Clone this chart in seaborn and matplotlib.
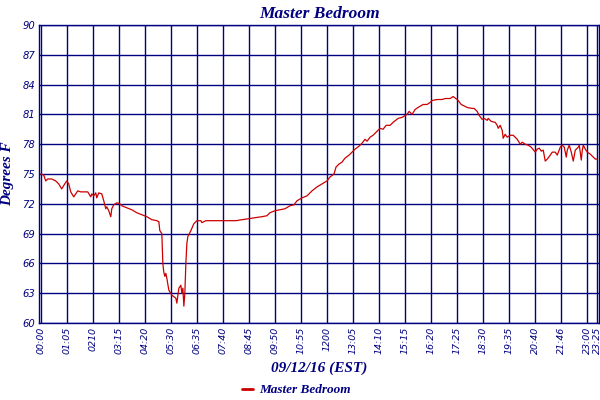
import pandas as pd
import seaborn as sns
import matplotlib
matplotlib.use("Agg")
import matplotlib.pyplot as plt

# readings (reading number, degrees F)
reading = [
  0, 3, 5, 7, 11, 15, 18, 21, 24, 26, 28, 30, 33, 35, 37, 40, 43, 47, 50, 51,
  53, 55, 56, 58, 61, 63, 65, 66, 68, 70, 71, 73, 76, 79, 81, 86, 91, 96, 101, 106,
  111, 116, 118, 119, 121, 122, 123, 124, 125, 126, 128, 131, 135, 136, 138, 140, 141, 142, 143, 144,
  145, 146, 147, 150, 153, 156, 160, 161, 165, 170, 175, 181, 188, 195, 201, 208, 214, 221, 226, 229,
  234, 239, 244, 249, 253, 256, 261, 266, 271, 276, 281, 286, 289, 293, 295, 298, 301, 304, 308, 311,
  314, 318, 321, 324, 326, 329, 332, 336, 339, 342, 345, 349, 352, 357, 361, 366, 368, 371, 374, 377,
  382, 386, 389, 391, 396, 401, 404, 409, 412, 416, 417, 420, 422, 426, 431, 433, 436, 438, 441, 443,
  446, 447, 450, 454, 456, 457, 459, 461, 462, 464, 466, 469, 472, 476, 479, 481, 484, 487, 490, 494,
  496, 498, 500, 502, 504, 506, 509, 511, 514, 516, 519, 521, 523, 525, 526, 528, 530, 532, 534, 535,
  537, 538, 540, 541, 542, 544, 546, 549, 551, 554, 556,
]
temp_f = [
  75.0, 74.9, 74.3, 74.5, 74.5, 74.3, 74.0, 73.5, 74.0, 74.3, 74.0, 73.2, 72.7, 73.0, 73.3, 73.2, 73.2, 73.2, 72.7, 73.0,
  72.8, 73.1, 72.6, 73.1, 73.0, 72.3, 71.5, 71.7, 71.3, 70.7, 71.5, 71.9, 72.1, 72.0, 71.8, 71.6, 71.4, 71.1, 70.9, 70.7,
  70.4, 70.3, 70.2, 69.3, 69.0, 66.0, 65.1, 64.7, 65.0, 64.5, 63.3, 62.8, 62.5, 62.0, 63.5, 63.8, 63.0, 63.5, 61.7, 63.0,
  66.0, 68.0, 68.7, 69.3, 70.0, 70.3, 70.3, 70.1, 70.3, 70.3, 70.3, 70.3, 70.3, 70.3, 70.4, 70.5, 70.6, 70.7, 70.8, 71.1,
  71.3, 71.4, 71.5, 71.8, 71.9, 72.3, 72.6, 72.8, 73.3, 73.7, 74.0, 74.3, 74.7, 75.0, 75.7, 76.0, 76.2, 76.6, 76.9, 77.2,
  77.5, 77.8, 78.1, 78.5, 78.3, 78.7, 78.9, 79.3, 79.6, 79.5, 79.9, 79.9, 80.2, 80.6, 80.7, 81.0, 81.3, 81.0, 81.5, 81.7,
  82.0, 82.0, 82.2, 82.4, 82.5, 82.5, 82.6, 82.6, 82.8, 82.5, 82.4, 82.0, 81.9, 81.7, 81.6, 81.6, 81.3, 80.9, 80.5, 80.6,
  80.4, 80.6, 80.3, 80.2, 79.9, 79.6, 79.9, 79.4, 78.6, 79.0, 78.7, 78.9, 78.9, 78.5, 78.0, 78.2, 78.0, 77.9, 77.7, 77.2,
  77.5, 77.6, 77.3, 77.4, 76.3, 76.5, 76.9, 77.2, 77.2, 76.9, 77.7, 77.9, 77.7, 76.7, 77.4, 77.9, 77.2, 76.3, 77.4, 77.5,
  77.7, 77.9, 76.4, 77.4, 77.9, 77.5, 77.2, 77.0, 76.8, 76.5, 76.5,
]

tick_readings = [0, 26, 52, 78, 104, 130, 156, 182, 208, 234, 260, 286, 312, 338, 364, 390, 416, 442, 468, 494, 520, 546, 556]
tick_labels = ["00:00", "01:05", "0210", "03:15", "04:20", "05:30", "06:35", "07:40", "08:45", "09:50", "10:55",
               "1200", "13:05", "14:10", "15:15", "16:20", "17:25", "18:30", "19:35", "20:40", "21:46", "23:00", "23:25"]
y_ticks = [60, 63, 66, 69, 72, 75, 78, 81, 84, 87, 90]

navy = "#000080"
red = "#CC0000"

sns.set_style("white")
plt.rcParams["font.family"] = ["DejaVu Sans"]

df = pd.DataFrame({"reading": reading, "temp": temp_f})

fig = plt.figure(figsize=(6, 4), dpi=100)
ax = fig.add_axes([39.3 / 600, 77 / 400, 559.7 / 600, 298 / 400])

sns.lineplot(data=df, x="reading", y="temp", ax=ax, color=red, linewidth=0.9, label="Master Bedroom")

ax.set_xlim(-1.4, 557.7)
ax.set_ylim(60, 90)
ax.set_xticks(tick_readings)
ax.set_xticklabels(tick_labels, rotation=90, fontsize=6.8, style="italic", color=navy)
ax.set_yticks(y_ticks)
ax.set_yticklabels([str(v) for v in y_ticks], fontsize=7.2, style="italic", color=navy)
ax.tick_params(axis="both", length=0, pad=3)
ax.grid(True, color=navy, linewidth=1.0)
ax.set_axisbelow(True)
for s in ax.spines.values():
  s.set_color(navy)
  s.set_linewidth(1.0)

serif = ["Liberation Serif", "DejaVu Serif"]
ax.set_title("Master Bedroom", fontsize=12.5, fontweight="bold", style="italic", color=navy, family=serif, pad=5)
ax.set_xlabel("09/12/16 (EST)", fontsize=11, fontweight="bold", style="italic", color=navy, family=serif, labelpad=5)
ax.set_ylabel("Degrees F", fontsize=11, fontweight="bold", style="italic", color=navy, family=serif, labelpad=6)

leg = ax.legend(loc="center", bbox_to_anchor=(0.46, -0.225), frameon=False, handlelength=0.8, handletextpad=0.5,
                prop={"family": serif, "weight": "bold", "style": "italic", "size": 9.5})
for t in leg.get_texts():
  t.set_color(navy)
for h in leg.get_lines():
  h.set_linewidth(2.0)

fig.savefig("out.png", dpi=100)
